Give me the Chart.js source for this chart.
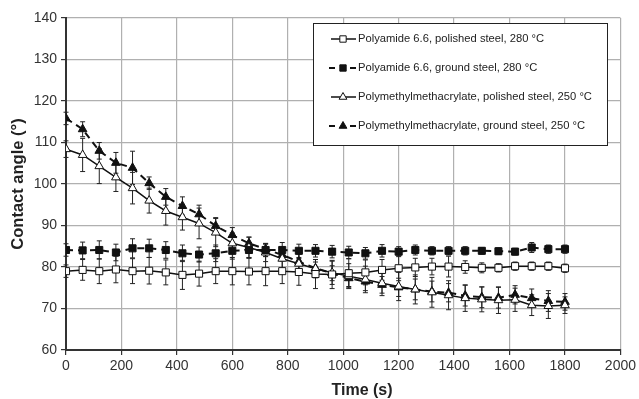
<!DOCTYPE html>
<html>
<head>
<meta charset="utf-8">
<script src="https://cdn.jsdelivr.net/npm/chart.js@4"></script>
<style>
  html, body { margin: 0; padding: 0; background: #fff; }
  #wrap { width: 639px; height: 399px; }
</style>
</head>
<body>
<div id="wrap"><canvas id="myChart" width="639" height="399"></canvas></div>
<script>
// time points (s)
const times = [0, 60, 120, 180, 240, 300, 360, 420, 480, 540, 600, 660, 720, 780, 840, 900,
  960, 1020, 1080, 1140, 1200, 1260, 1320, 1380, 1440, 1500, 1560, 1620, 1680, 1740, 1800];

const paPolished = [79.0, 79.3, 79.0, 79.4, 79.0, 79.1, 78.7, 78.1, 78.4, 79.0, 79.0, 78.9, 79.0, 79.0, 78.8, 78.3,
  78.2, 78.5, 78.7, 79.3, 79.7, 79.9, 80.1, 80.1, 80.0, 79.8, 79.8, 80.2, 80.2, 80.2, 79.7];
const paPolishedErr = [1.5, 2.5, 3.0, 3.2, 3.0, 3.2, 3.0, 3.5, 3.0, 3.0, 3.3, 3.2, 3.5, 3.0, 3.2, 3.5,
  3.4, 3.5, 3.0, 2.5, 3.0, 2.2, 2.0, 2.5, 1.5, 1.2, 1.0, 1.0, 1.0, 1.0, 1.0];

const paGround = [84.1, 84.0, 84.1, 83.5, 84.5, 84.5, 84.1, 83.3, 83.0, 83.3, 83.9, 84.1, 84.1, 84.1, 83.9, 83.9,
  83.7, 83.5, 83.3, 83.9, 83.7, 84.1, 83.9, 83.9, 83.9, 83.9, 83.8, 83.7, 84.7, 84.3, 84.3];
const paGroundErr = [1.5, 2.0, 2.2, 2.0, 2.3, 2.2, 2.0, 2.0, 1.8, 2.0, 2.0, 1.8, 1.5, 1.8, 1.6, 1.5,
  1.5, 1.5, 1.4, 1.5, 1.2, 1.2, 1.0, 1.0, 1.0, 0.8, 0.8, 0.8, 1.2, 1.0, 1.0];

const pmmaPolished = [108.4, 107.0, 104.3, 101.6, 99.0, 96.0, 93.5, 92.0, 90.5, 88.3, 85.7, 84.7, 83.5, 82.0, 80.8, 79.6,
  78.6, 77.8, 77.0, 76.1, 75.3, 74.6, 73.9, 73.2, 72.5, 72.2, 72.0, 72.1, 70.8, 70.6, 70.8];
const pmmaPolishedErr = [2.0, 4.0, 4.2, 3.4, 3.8, 3.0, 3.4, 3.1, 3.7, 3.4, 2.5, 2.5, 2.2, 2.5, 2.5, 2.2,
  2.8, 3.0, 3.2, 3.0, 3.4, 3.5, 3.6, 3.5, 3.2, 3.0, 3.2, 2.8, 2.5, 3.0, 2.0];

const pmmaGround = [115.8, 113.2, 108.0, 105.1, 103.9, 100.2, 96.9, 94.7, 92.7, 89.9, 87.7, 85.7, 84.3, 82.9, 81.3, 79.7,
  78.5, 77.3, 76.5, 75.7, 75.1, 74.6, 74.1, 73.8, 73.1, 72.7, 72.6, 73.3, 72.5, 71.8, 71.6];
const pmmaGroundErr = [1.5, 1.8, 2.0, 2.5, 4.0, 1.5, 2.0, 2.2, 2.2, 2.0, 1.8, 1.5, 1.2, 1.5, 1.8, 1.5,
  1.8, 2.0, 2.2, 2.0, 2.2, 2.5, 2.5, 2.2, 2.5, 2.5, 2.5, 2.2, 2.2, 2.5, 2.0];

const xTicks = [0, 200, 400, 600, 800, 1000, 1200, 1400, 1600, 1800, 2000];
const yTicks = [60, 70, 80, 90, 100, 110, 120, 130, 140];

const seriesNames = [
  'Polyamide 6.6, polished steel, 280 °C',
  'Polyamide 6.6, ground steel, 280 °C',
  'Polymethylmethacrylate, polished steel, 250 °C',
  'Polymethylmethacrylate, ground steel, 250 °C'
];

const FONT = '"Liberation Sans", Arial, sans-serif';

function pts(vals) {
  return times.map((t, i) => ({ x: t, y: vals[i] }));
}

function makeSet(name, vals, errs, style, filled, dashed) {
  return {
    label: name,
    data: pts(vals),
    errors: errs,
    borderColor: '#111',
    borderWidth: dashed ? 2 : 1.5,
    borderDash: dashed ? [7, 5] : [],
    pointStyle: style,
    pointRadius: 5,
    pointBorderWidth: 1,
    pointBorderColor: '#111',
    pointBackgroundColor: filled ? '#111' : '#fff',
    tension: 0,
    fill: false
  };
}

const errorBars = {
  id: 'errorBars',
  beforeDatasetsDraw(chart) {
    const c = chart.ctx;
    const ys = chart.scales.y;
    c.save();
    c.strokeStyle = '#222';
    c.lineWidth = 1;
    chart.data.datasets.forEach((ds, di) => {
      const meta = chart.getDatasetMeta(di);
      meta.data.forEach((p, i) => {
        const v = ds.data[i].y, e = ds.errors[i];
        const top = ys.getPixelForValue(v + e);
        const bot = ys.getPixelForValue(v - e);
        c.beginPath();
        c.moveTo(p.x, top); c.lineTo(p.x, bot);
        c.moveTo(p.x - 2.5, top); c.lineTo(p.x + 2.5, top);
        c.moveTo(p.x - 2.5, bot); c.lineTo(p.x + 2.5, bot);
        c.stroke();
      });
    });
    c.restore();
  }
};

const boxLegend = {
  id: 'boxLegend',
  afterDraw(chart) {
    const c = chart.ctx;
    const x0 = 313, y0 = 23, w = 294, h = 122;
    c.save();
    c.fillStyle = '#fff';
    c.fillRect(x0, y0, w, h);
    c.strokeStyle = '#222';
    c.lineWidth = 1;
    c.strokeRect(x0 + 0.5, y0 + 0.5, w, h);
    c.font = '11.2px ' + FONT;
    c.textBaseline = 'middle';
    chart.data.datasets.forEach((ds, i) => {
      const y = 39 + i * 29;
      c.strokeStyle = '#111';
      c.lineWidth = ds.borderWidth;
      c.setLineDash(ds.borderDash);
      c.beginPath();
      if (ds.borderDash.length) {
        c.moveTo(329, y); c.lineTo(335, y);
        c.moveTo(350, y); c.lineTo(356, y);
      } else {
        c.moveTo(331, y); c.lineTo(356, y);
      }
      c.stroke();
      c.setLineDash([]);
      c.fillStyle = ds.pointBackgroundColor;
      c.lineWidth = 1;
      Chart.helpers.drawPoint(c, { pointStyle: ds.pointStyle, radius: 4.5, borderWidth: 1 }, 343, y);
      c.fillStyle = '#222';
      c.fillText(ds.label, 358, y);
    });
    // x axis title, sits a little right of centre in the original
    c.font = 'bold 16px ' + FONT;
    c.textAlign = 'center';
    c.textBaseline = 'alphabetic';
    c.fillStyle = '#222';
    c.fillText('Time (s)', 362, 395);
    c.restore();
  }
};

const ctx = document.getElementById('myChart').getContext('2d');
const myChart = new Chart(ctx, {
  type: 'line',
  data: {
    datasets: [
      makeSet(seriesNames[0], paPolished, paPolishedErr, 'rect', false, false),
      makeSet(seriesNames[1], paGround, paGroundErr, 'rect', true, true),
      makeSet(seriesNames[2], pmmaPolished, pmmaPolishedErr, 'triangle', false, false),
      makeSet(seriesNames[3], pmmaGround, pmmaGroundErr, 'triangle', true, true)
    ]
  },
  options: {
    responsive: false,
    animation: false,
    layout: { padding: { left: 0, right: 18, top: 18, bottom: 0 } },
    plugins: {
      legend: { display: false },
      tooltip: { enabled: false }
    },
    scales: {
      x: {
        type: 'linear',
        min: 0,
        max: 2000,
        afterBuildTicks: (s) => { s.ticks = xTicks.map(v => ({ value: v })); },
        afterFit: (s) => { s.height = 49; },
        grid: { color: '#b0b0b0', lineWidth: 1.2, tickColor: '#333', tickLength: 5 },
        border: { color: '#333', width: 2 },
        ticks: {
          color: '#333',
          padding: 3,
          maxRotation: 0,
          callback: (v) => String(v),
          font: { size: 14, family: FONT }
        }
      },
      y: {
        min: 60,
        max: 140,
        afterBuildTicks: (s) => { s.ticks = yTicks.map(v => ({ value: v })); },
        afterFit: (s) => { s.width = 66; },
        grid: { color: '#b0b0b0', lineWidth: 1.2, tickColor: '#333', tickLength: 5 },
        border: { color: '#333', width: 2 },
        ticks: {
          color: '#333',
          padding: 4,
          callback: (v) => String(v),
          font: { size: 14, family: FONT }
        },
        title: {
          display: true,
          text: 'Contact angle (°)',
          color: '#222',
          padding: { top: 9, bottom: 0 },
          font: { size: 16.5, weight: 'bold', family: FONT }
        }
      }
    }
  },
  plugins: [errorBars, boxLegend]
});
</script>
</body>
</html>
